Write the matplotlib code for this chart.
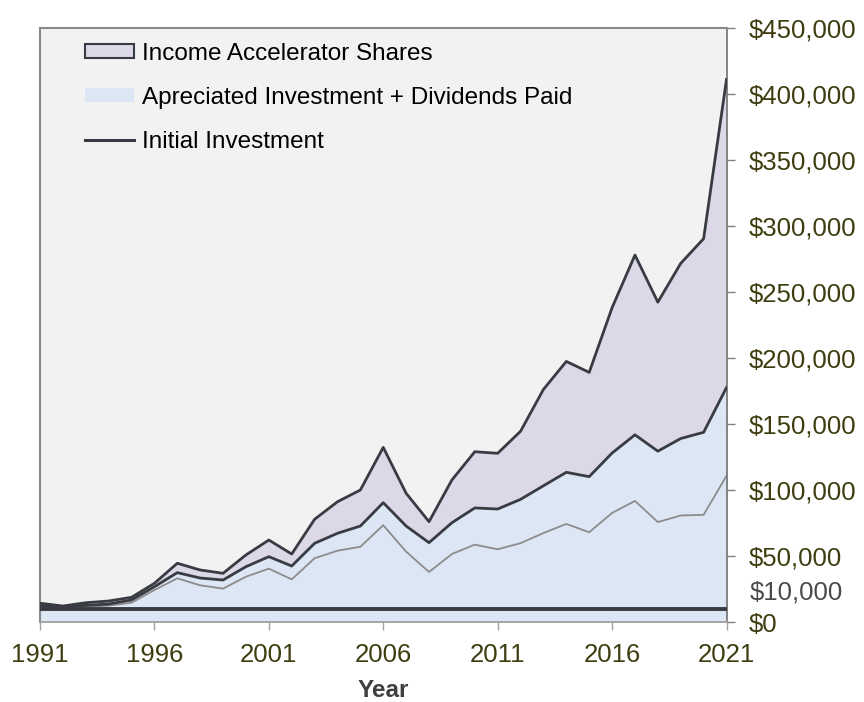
import matplotlib
matplotlib.use('Agg')
import matplotlib.pyplot as plt
import matplotlib.transforms as mtransforms
from matplotlib.patches import Patch
from matplotlib.lines import Line2D
import numpy as np

# --- Datos (USD) ---
years = list(range(1991, 2022))

total_value = [14200, 12100, 14600, 15900, 18700, 29300, 44500, 39400, 36900, 50800,
               62100, 51500, 77800, 91100, 100000, 132300, 97500, 76000, 107600, 129000,
               127800, 144500, 176200, 197400, 189100, 238100, 278000, 242300, 271700, 290400,
               411000]

appreciated_plus_div = [12100, 11600, 12600, 13600, 16700, 26700, 37400, 33300, 31800, 41900,
                        49500, 42400, 59600, 67200, 72700, 90400, 72700, 60100, 75200, 86400,
                        85600, 92900, 103200, 113400, 110100, 128000, 141800, 129400, 139000, 143700,
                        177600]

appreciated_only = [11100, 11100, 11600, 12400, 14600, 24200, 33100, 27800, 25300, 34300,
                    40400, 32300, 48300, 54000, 57000, 73300, 53300, 37900, 51500, 58600,
                    55100, 59700, 67400, 74300, 68000, 82600, 91700, 75700, 80700, 81200,
                    110700]

initial_investment = [10000] * len(years)

y_ticks = [0, 50000, 100000, 150000, 200000, 250000, 300000, 350000, 400000, 450000]
x_ticks = [1991, 1996, 2001, 2006, 2011, 2016, 2021]

legend_labels = ['Income Accelerator Shares',
                 'Apreciated Investment + Dividends Paid',
                 'Initial Investment']

OLIVE = '#3e3d10'
DARK = '#383c42'
BLUE = '#dce6f4'
LAVENDER = '#dcd8e8'


def dibujar_grafico():
    plt.rcParams['font.family'] = ['Liberation Sans', 'DejaVu Sans']

    fig = plt.figure(figsize=(8.64, 7.02), dpi=100)
    ax = fig.add_axes([40 / 864, 1 - 622 / 702, 686.5 / 864, 594 / 702])
    ax.set_facecolor('#f2f2f2')

    x = np.array(years)

    # areas apiladas
    ax.fill_between(x, 0, appreciated_plus_div, color=BLUE, linewidth=0, zorder=1)
    ax.fill_between(x, appreciated_plus_div, total_value, color=LAVENDER, linewidth=0, zorder=1)

    # lineas
    ax.plot(x, appreciated_only, color='#8c8c8c', linewidth=1.3, zorder=2)
    ax.plot(x, appreciated_plus_div, color=DARK, linewidth=2.0, zorder=3)
    ax.plot(x, total_value, color=DARK, linewidth=2.0, zorder=3)
    ax.plot(x, initial_investment, color=DARK, linewidth=2.8, zorder=4)

    ax.set_xlim(1991, 2021)
    ax.set_ylim(0, 450000)

    # eje Y a la derecha
    ax.yaxis.tick_right()
    ax.set_yticks(y_ticks)
    ax.set_yticklabels([f'${v:,.0f}' for v in y_ticks])
    ax.tick_params(axis='y', length=6, width=1, color='#808080', pad=10,
                   labelsize=18.5, labelcolor=OLIVE)
    ax.set_xticks(x_ticks)
    ax.set_xticklabels([str(v) for v in x_ticks])
    ax.tick_params(axis='x', length=6, width=1, color='#a0a0a0', pad=9,
                   labelsize=18.5, labelcolor=OLIVE)

    # etiqueta extra para la inversion inicial
    trans = mtransforms.blended_transform_factory(ax.transAxes, ax.transData)
    ax.annotate('$10,000', xy=(1, 10000), xycoords=trans,
                xytext=(17, 12), textcoords='offset points',
                ha='left', va='center', fontsize=18.5, color='#4a4a4a',
                annotation_clip=False)

    for side in ['left', 'top']:
        ax.spines[side].set_color('#8a8a8a')
        ax.spines[side].set_linewidth(1.5)
    ax.spines['right'].set_color('#7a7a7a')
    ax.spines['right'].set_linewidth(1.3)
    ax.spines['bottom'].set_color('#a0a0a0')
    ax.spines['bottom'].set_linewidth(1.3)

    ax.set_xlabel('Year', fontsize=17.5, fontweight='bold', color='#404040', labelpad=9)

    handles = [
        Patch(facecolor=LAVENDER, edgecolor=DARK, linewidth=1.5),
        Patch(facecolor=BLUE, edgecolor='none'),
        Line2D([0], [0], color=DARK, linewidth=2.2),
    ]
    ax.legend(handles, legend_labels, loc='upper left', bbox_to_anchor=(0.065, 0.975),
              frameon=False, fontsize=17.5, handlelength=2.05, handleheight=0.5,
              handletextpad=0.3, labelspacing=0.9, borderaxespad=0, borderpad=0)

    fig.savefig('out.png', dpi=100, facecolor='white')


if __name__ == "__main__":
    dibujar_grafico()
